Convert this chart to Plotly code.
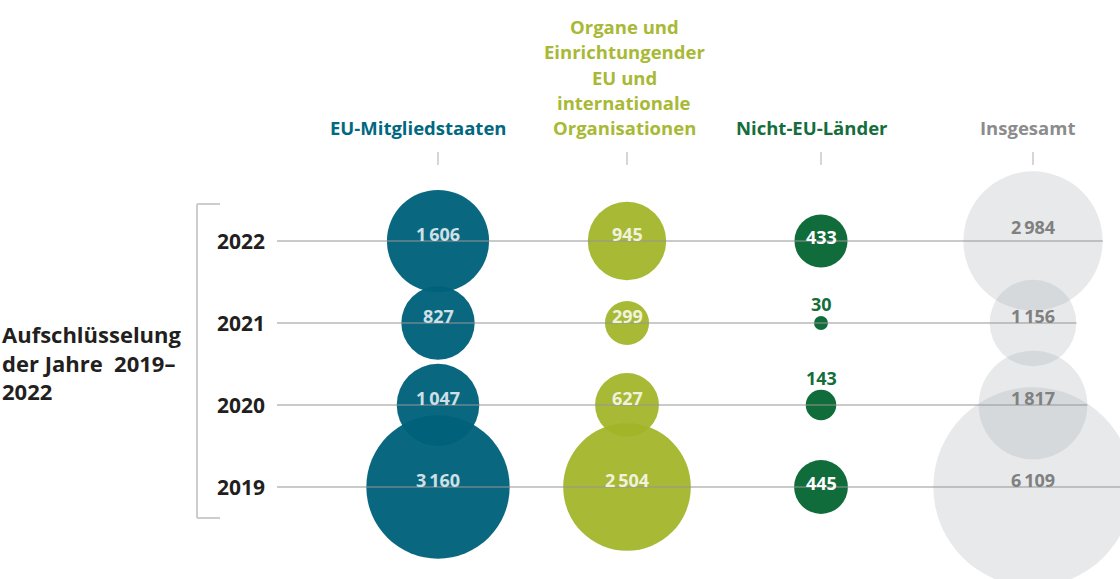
import math
import plotly.graph_objects as go

# ---------------- data ----------------
years = [2022, 2021, 2020, 2019]
series_names = ["EU-Mitgliedstaaten",
                "Organe und Einrichtungender EU und internationale Organisationen",
                "Nicht-EU-Länder",
                "Insgesamt"]
eu_member_states = [1606, 827, 1047, 3160]
eu_bodies_intl_orgs = [945, 299, 627, 2504]
non_eu_countries = [433, 30, 143, 445]
total = [2984, 1156, 1817, 6109]

header_lines = [
    ["EU-Mitgliedstaaten"],
    ["Organe und", "Einrichtungender", "EU und", "internationale", "Organisationen"],
    ["Nicht-EU-Länder"],
    ["Insgesamt"],
]
side_title = "Aufschlüsselung<br>der Jahre  2019–<br>2022"

# ---------------- layout / style ----------------
W, H = 1120, 579
FONT = "Open Sans"
col_x = [438, 627, 821, 1033]          # column centres (x axis in pixel units)
header_x = [418, 624, 812, 1027]
row_top_px, row_step_px = 241, 82       # 2022 row pixel position, row spacing
y_top = years[0] + row_top_px / row_step_px
y_bot = years[0] - (H - row_top_px) / row_step_px

def y_at(px):
    return years[0] - (px - row_top_px) / row_step_px

K = 2.55                                 # diameter = K * sqrt(value)
SIZEREF = 2.0 / K ** 2

fill_colors = ["rgb(0,97,123)", "rgb(162,181,40)", "rgb(6,102,50)", "rgb(168,174,182)"]
opacities = [0.96, 0.94, 0.96, 0.27]
header_colors = ["rgb(0,104,128)", "rgb(168,185,53)", "rgb(20,110,60)", "rgb(140,140,140)"]
label_colors = ["rgb(206,224,230)", "rgb(240,242,220)", "rgb(255,255,255)", "rgb(128,128,128)"]
label_shift = [7, 7, 4, 7]

all_series = [eu_member_states, eu_bodies_intl_orgs, non_eu_countries, total]

fig = go.Figure()

# bubbles (totals first so they sit behind)
for i in [3, 0, 1, 2]:
    vals = all_series[i]
    fig.add_trace(go.Scatter(
        x=[col_x[i]] * len(years), y=years, mode="markers",
        name=series_names[i],
        marker=dict(size=vals, sizemode="area", sizeref=SIZEREF,
                    color=fill_colors[i], opacity=opacities[i],
                    line=dict(width=0)),
        hoverinfo="skip", showlegend=False, cliponaxis=True,
    ))

annotations = []
shapes = []

def fmt(v):
    return f"{v:,}".replace(",", "\u2009")

# value labels
for i, vals in enumerate(all_series):
    for yr, v in zip(years, vals):
        d = K * math.sqrt(v)
        if d < 35:
            col, shift = header_colors[i], d / 2 + 12
        else:
            col, shift = label_colors[i], label_shift[i]
            if i == 3 and yr == 2022:
                shift = 14
        annotations.append(dict(
            x=col_x[i], y=yr, xref="x", yref="y", text=f"<b>{fmt(v)}</b>",
            showarrow=False, yshift=shift,
            font=dict(family=FONT, size=18, color=col)))

# horizontal row lines (end at the right edge of the total bubble)
for yr, t in zip(years, total):
    x_end = col_x[3] + K * math.sqrt(t) / 2
    shapes.append(dict(type="line", xref="x", yref="y", x0=277, x1=x_end,
                       y0=yr, y1=yr, layer="above",
                       line=dict(color="rgba(150,150,150,0.5)", width=2)))

# year labels
for yr in years:
    annotations.append(dict(
        x=241, y=yr, xref="x", yref="y", text=f"<b>{yr}</b>", showarrow=False,
        font=dict(family=FONT, size=21, color="rgb(35,31,32)")))

# bracket
br_col = "rgb(205,205,205)"
shapes += [
    dict(type="line", xref="x", yref="y", x0=197, x1=197, y0=y_at(204), y1=y_at(518),
         line=dict(color=br_col, width=2)),
    dict(type="line", xref="x", yref="y", x0=197, x1=220, y0=y_at(204), y1=y_at(204),
         line=dict(color=br_col, width=2)),
    dict(type="line", xref="x", yref="y", x0=197, x1=220, y0=y_at(518), y1=y_at(518),
         line=dict(color=br_col, width=2)),
]

# side title
annotations.append(dict(
    x=0, y=y_at(362), xref="x", yref="y", xanchor="left", align="left",
    text="<b>" + side_title + "</b>", showarrow=False,
    font=dict(family=FONT, size=22, color="rgb(35,31,32)")))

# column headers
for i, lines in enumerate(header_lines):
    n = len(lines)
    for j, line in enumerate(lines):
        py = 127.5 - (n - 1 - j) * 25.2
        annotations.append(dict(
            x=header_x[i], y=y_at(py), xref="x", yref="y", text=f"<b>{line}</b>",
            showarrow=False, font=dict(family=FONT, size=18.5, color=header_colors[i])))
    # small tick under header
    shapes.append(dict(type="line", xref="x", yref="y", x0=col_x[i], x1=col_x[i],
                       y0=y_at(152), y1=y_at(165),
                       line=dict(color="rgb(200,200,200)", width=1.5)))

fig.update_layout(
    width=W, height=H, margin=dict(l=0, r=0, t=0, b=0),
    paper_bgcolor="white", plot_bgcolor="white", showlegend=False,
    xaxis=dict(range=[0, W], visible=False, fixedrange=True),
    yaxis=dict(range=[y_bot, y_top], visible=False, fixedrange=True),
    annotations=annotations, shapes=shapes,
)

fig.write_html("out.html", config={"displayModeBar": False},
               post_script="document.body.style.margin='0';")
